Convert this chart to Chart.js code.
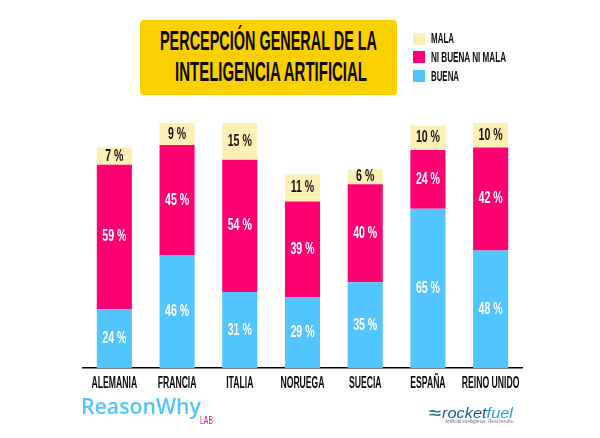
<!DOCTYPE html>
<html>
<head>
<meta charset="utf-8">
<script src="https://cdn.jsdelivr.net/npm/chart.js@4"></script>
<style>
  html, body { margin: 0; padding: 0; background: #fff; }
  #wrap { position: relative; width: 600px; height: 438px; overflow: hidden; font-family: 'Liberation Sans', sans-serif; font-weight: bold; }
  #chart { position: absolute; left: 0; top: 0; }
  #box { position: absolute; left: 140px; top: 20px; width: 257px; height: 75px; background: #FBD000; border-radius: 4px; }
  .leg { position: absolute; left: 413px; width: 12px; height: 12px; }
  /* narrow text: the width comes from data-w, see fitText */
  .t { position: absolute; white-space: nowrap; transform-origin: 0 0; line-height: 1; color: #0a0a0a; }
</style>
</head>
<body>
<div id="wrap">
  <canvas id="chart" width="600" height="438"></canvas>
  <div id="box"></div>
  <div class="t" data-w="217" style="left:160px;top:27px;font-size:28px">PERCEPCIÓN GENERAL DE LA</div>
  <div class="t" data-w="192" style="left:175px;top:58px;font-size:28px">INTELIGENCIA ARTIFICIAL</div>
  <div class="leg" style="top:33px;background:#FDF0B5"></div>
  <div class="t" data-w="23" style="left:431px;top:31px;font-size:14px">MALA</div>
  <div class="leg" style="top:51px;background:#FF0072"></div>
  <div class="t" data-w="75" style="left:431px;top:50px;font-size:14px">NI BUENA NI MALA</div>
  <div class="leg" style="top:70px;background:#52C5FF"></div>
  <div class="t" data-w="28" style="left:431px;top:69px;font-size:14px">BUENA</div>
  <div class="t" data-w="120" style="left:81px;top:394px;font-family:'Open Sans',sans-serif;font-weight:600;font-size:22px;color:#52C5FF">ReasonWhy</div>
  <div class="t" data-w="13" style="left:200px;top:415px;font-size:11px;font-weight:normal;color:#FF0072">LAB</div>
  <div class="t" data-w="12" style="left:429px;top:405px;font-size:15px;color:#1f6f9f">≈</div>
  <div class="t" data-w="71" style="left:442px;top:405px;font-style:italic;font-weight:normal;font-size:15px;color:#1f5f8f">rocket<span style="color:#2a9fd6">fuel</span></div>
  <div class="t" data-w="69" style="left:445px;top:419px;font-weight:normal;font-size:5px;color:#777">Artificial intelligence. Real results.</div>
</div>
<script>
const categories = ['ALEMANIA', 'FRANCIA', 'ITALIA', 'NORUEGA', 'SUECIA', 'ESPAÑA', 'REINO UNIDO'];
const buena = [24, 46, 31, 29, 35, 65, 48];
const niBuenaNiMala = [59, 45, 54, 39, 40, 24, 42];
const mala = [7, 9, 15, 11, 6, 10, 10];

const FONT = "'Liberation Sans', sans-serif";

// no condensed face is installed, so squeeze the bold one
function fitText(el) {
    const natural = el.getBoundingClientRect().width;
    el.style.transform = `scaleX(${el.dataset.w / natural})`;
}
document.querySelectorAll('.t').forEach(fitText);

function narrowText(ctx, text, x, y, squeeze) {
    ctx.save();
    ctx.translate(x, y);
    ctx.scale(squeeze, 1);
    ctx.fillText(text, 0, 0);
    ctx.restore();
}

// prints "NN %" in each stacked segment and the country names under the axis
const narrowLabels = {
    id: 'narrowLabels',
    afterDatasetsDraw(chart) {
        const ctx = chart.ctx;
        ctx.save();
        ctx.textAlign = 'center';
        ctx.textBaseline = 'middle';
        ctx.font = `bold 16.5px ${FONT}`;
        chart.data.datasets.forEach((ds, i) => {
            ctx.fillStyle = ds.labelColor;
            chart.getDatasetMeta(i).data.forEach((bar, j) => {
                narrowText(ctx, `${ds.data[j]} %`, bar.x, (bar.y + bar.base) / 2, 0.64);
            });
        });
        ctx.font = `bold 16px ${FONT}`;
        ctx.fillStyle = '#0a0a0a';
        const xScale = chart.scales.x;
        chart.data.labels.forEach((name, i) => {
            narrowText(ctx, name, xScale.getPixelForTick(i), xScale.top + 16, 0.54);
        });
        ctx.restore();
    },
};

new Chart(document.getElementById('chart'), {
    type: 'bar',
    data: {
        labels: categories,
        datasets: [
            { label: 'BUENA', data: buena, backgroundColor: '#52C5FF', labelColor: '#fff' },
            { label: 'NI BUENA NI MALA', data: niBuenaNiMala, backgroundColor: '#FF0072', labelColor: '#fff' },
            { label: 'MALA', data: mala, backgroundColor: '#FDF0B5', labelColor: '#111' },
        ],
    },
    options: {
        responsive: false,
        animation: false,
        layout: { padding: { left: 83, right: 78, top: 123, bottom: 0 } },
        datasets: { bar: { categoryPercentage: 1, barPercentage: 0.56 } },
        plugins: { legend: { display: false }, tooltip: { enabled: false } },
        scales: {
            x: {
                stacked: true,
                grid: { display: false },
                border: { color: '#000', width: 1.5 },
                afterFit: (scale) => { scale.height = 70; },
                ticks: { display: false },
            },
            y: { stacked: true, display: false, min: 0, max: 100 },
        },
    },
    plugins: [narrowLabels],
});
</script>
</body>
</html>
